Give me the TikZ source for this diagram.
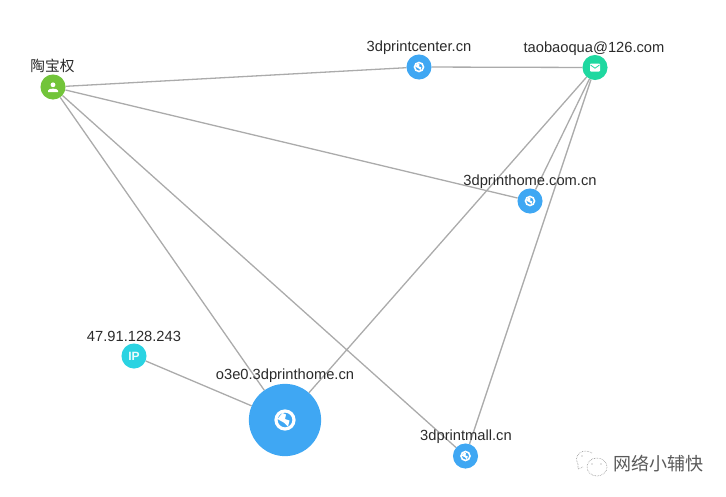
\documentclass[tikz,border=0pt]{standalone}
\usepackage{fontspec}
\setmainfont{Liberation Sans}
\newfontfamily\cjkfont{Noto Sans CJK SC}
\definecolor{edgegray}{HTML}{ABABAB}
\definecolor{webblue}{HTML}{3FA7F3}
\definecolor{persongreen}{HTML}{72C43A}
\definecolor{mailgreen}{HTML}{1FD8A0}
\definecolor{ipcyan}{HTML}{2AD3E2}
\definecolor{labelgray}{HTML}{2A2A2A}
\definecolor{markgray}{HTML}{5A5A5A}
\pgfdeclarelayer{edges}
\pgfsetlayers{edges,main}
\tikzset{
  x=1pt,y=-1pt,
  dot/.style={circle,draw=none,inner sep=0pt,minimum size=25bp},
  web/.style={dot,fill=webblue},
  bigweb/.style={dot,fill=webblue,minimum size=72bp},
  lab/.style={font=\fontsize{14.7}{16}\selectfont,text=labelgray,inner sep=0pt},
  edge/.style={draw=edgegray,line width=1.3pt},
  markline/.style={draw=markgray!70,densely dotted,line width=0.6pt},
  pics/globe/.style={code={
    \draw[white,line width=#1*0.32pt] (0,0) circle[radius=#1*0.9];
    \fill[white] (-#1*0.75,-#1*0.1) -- (-#1*0.25,-#1*0.7) -- (#1*0.1,-#1*0.55) -- (#1*0.0,-#1*0.1)
      -- (#1*0.45,#1*0.05) -- (#1*0.3,#1*0.65) -- (-#1*0.05,#1*0.3) -- cycle;
  }},
  pics/personicon/.style={code={
    \fill[white] (0,-2.2) circle[radius=2.4];
    \fill[white] (-5,5) -- (-5,3.5) .. controls (-4.5,1) and (4.5,1) .. (5,3.5) -- (5,5) -- cycle;
  }},
  pics/mailicon/.style={code={
    \fill[white,rounded corners=0.8pt] (-5,-4) rectangle (5,4);
    \draw[mailgreen,line width=0.8pt] (-4.5,-2.5) -- (0,0.7) -- (4.5,-2.5);
  }}
}
\begin{document}
\begin{tikzpicture}
\useasboundingbox (0,0) rectangle (726,496);
\node[dot,fill=persongreen] (person) at (53,87) {};
\node[web] (center) at (419,67) {};
\node[dot,fill=mailgreen] (mail) at (595,67.5) {};
\node[web] (home) at (530,201) {};
\node[dot,fill=ipcyan,font=\fontsize{12}{12}\selectfont\bfseries,text=white!90!ipcyan] (ip) at (134,356) {IP};
\node[bigweb] (big) at (285,420) {};
\node[web] (mall) at (465.5,456) {};
\begin{pgfonlayer}{edges}
\draw[edge] (person) -- (center);
\draw[edge] (center) -- (mail);
\draw[edge] (person) -- (home);
\draw[edge] (person) -- (big);
\draw[edge] (person) -- (mall);
\draw[edge] (mail) -- (home);
\draw[edge] (mail) -- (big);
\draw[edge] (mail) -- (mall);
\draw[edge] (ip) -- (big);
\end{pgfonlayer}
\pic at (person) {personicon};
\pic at (mail) {mailicon};
\pic at (center) {globe=5};
\pic at (home) {globe=5};
\pic at (mall) {globe=5};
\pic at (big) {globe=10};
\node[lab,font=\cjkfont\fontsize{14.7}{16}\selectfont] (l1) at (52.5,65.5) {陶宝权};
\node[lab] (l2) at (419,48) {3dprintcenter.cn};
\node[lab] (l3) at (594,49) {taobaoqua@126.com};
\node[lab] (l4) at (530,181.5) {3dprinthome.com.cn};
\node[lab] (l5) at (134,336) {47.91.128.243};
\node[lab] (l6) at (285,376) {o3e0.3dprinthome.cn};
\node[lab] (l7) at (466,437) {3dprintmall.cn};
\node[font=\cjkfont\fontsize{18}{20}\selectfont,text=markgray,inner sep=0pt] (mark) at (658,463.5) {网络小辅快};
\draw[markline] (597,467) ellipse[x radius=10,y radius=9];
\draw[markline] (592,453) .. controls (582,447) and (573,456) .. (578,464) -- (578,469) -- (583,467);
\fill[markgray!70] (592,464) circle[radius=0.7] (601,464) circle[radius=0.7] (582,456) circle[radius=0.7];
\end{tikzpicture}
\end{document}
